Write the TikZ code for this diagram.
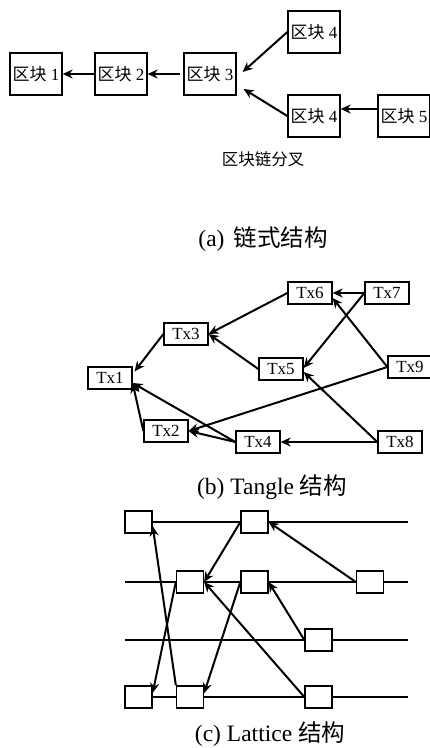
\documentclass[tikz,border=0pt]{standalone}
\usepackage{fontspec}
\setmainfont{Liberation Serif}
\newfontfamily\cjk{Noto Sans CJK SC}
\usetikzlibrary{arrows.meta}

\begin{document}
\begin{tikzpicture}[x=1pt, y=-1pt,
   blk/.style={draw=black, line width=1.3pt, fill=white, minimum width=52pt, minimum height=42pt, inner sep=0pt, font=\fontsize{17}{17}\selectfont},
   tx/.style={draw=black, line width=1.3pt, fill=white, minimum width=44pt, minimum height=22pt, inner sep=0pt, font=\fontsize{17}{17}\selectfont},
   cell/.style={draw=black, line width=1.3pt, fill=white, minimum width=27pt, minimum height=22pt, inner sep=0pt},
   arr/.style={-{Stealth[length=10pt,width=9pt]}, line width=2pt},
   capt/.style={font=\fontsize{23.5}{23.5}\selectfont}]

   \useasboundingbox (0,0) rectangle (430,748);

   % (a) chain with a fork
   \node[blk] (b1) at (36,74) {{\cjk 区块} 1};
   \node[blk] (b2) at (121,74) {{\cjk 区块} 2};
   \node[blk] (b3) at (210,74) {{\cjk 区块} 3};
   \node[blk] (b4a) at (314,32) {{\cjk 区块} 4};
   \node[blk] (b4b) at (314,116) {{\cjk 区块} 4};
   \node[blk] (b5) at (404,116) {{\cjk 区块} 5};

   \draw[arr] (b2.west) -- (b1.east);
   \draw[arr, shorten <=3pt] (b3.west) -- (b2.east);
   \draw[arr] (b4a.west) -- ([xshift=6pt,yshift=2pt]b3.east);
   \draw[arr] (b4b.west) -- ([xshift=7pt,yshift=-15pt]b3.east);
   \draw[arr] ([yshift=7pt]b5.west) -- ([yshift=7pt]b4b.east);

   \node[font=\cjk\fontsize{16.5}{16.5}\selectfont] (fork) at (263,159) {区块链分叉};
   \node[capt] (capa) at (263,239) {(a)\hspace{9pt}{\cjk 链式结构}};

   % (b) tangle
   \node[tx] (t1) at (110,378) {Tx1};
   \node[tx] (t2) at (166,431) {Tx2};
   \node[tx] (t3) at (186,334) {Tx3};
   \node[tx] (t4) at (258,442) {Tx4};
   \node[tx] (t5) at (281,369) {Tx5};
   \node[tx] (t6) at (310,293) {Tx6};
   \node[tx] (t7) at (387,293) {Tx7};
   \node[tx] (t8) at (400,442) {Tx8};
   \node[tx] (t9) at (410,367) {Tx9};

   \draw[arr] (t7.west) -- (t6.east);
   \draw[arr] (t6.west) -- (t3.east);
   \draw[arr] (t7.west) -- ([yshift=1pt]t5.east);
   \draw[arr] (t9.west) -- ([yshift=-5pt]t6.east);
   \draw[arr] (t5.west) -- (t3.east);
   \draw[arr] (t3.west) -- ([xshift=2pt,yshift=-5pt]t1.north east);
   \draw[arr] (t9.west) -- (t2.east);
   \draw[arr] (t8.west) -- ([yshift=-3pt]t5.east);
   \draw[arr] (t8.west) -- (t4.east);
   \draw[arr] (t4.west) -- ([yshift=-5pt]t1.east);
   \draw[arr] (t4.west) -- (t2.east);
   \draw[arr] (t2.west) -- ([yshift=-5pt]t1.east);

   \node[capt] (capb) at (272,487) {(b) Tangle {\cjk 结构}};

   % (c) lattice
   \foreach \y in {522,582,640,697}
      \draw[line width=1.5pt] (125,\y) -- (408,\y);

   \node[cell] (n11) at (138.5,522) {};
   \node[cell] (n12) at (254.5,522) {};
   \node[cell] (n21) at (190,582) {};
   \node[cell] (n22) at (254.5,582) {};
   \node[cell] (n23) at (370,582) {};
   \node[cell] (n31) at (318.5,640) {};
   \node[cell] (n41) at (138.5,697) {};
   \node[cell] (n42) at (190,697) {};
   \node[cell] (n43) at (318.5,697) {};

   \draw[arr] (n42.north west) -- ([yshift=-4pt]n11.east);
   \draw[arr] (n21.west) -- ([yshift=4pt]n41.east);
   \draw[arr] (n12.west) -- (n21.east);
   \draw[arr] (n23.west) -- (n12.east);
   \draw[arr] (n22.west) -- ([yshift=4pt]n42.east);
   \draw[arr] (n31.west) -- (n22.east);
   \draw[arr] (n43.west) -- (n21.east);

   \node[capt] (capc) at (270,734) {(c) Lattice {\cjk 结构}};

\end{tikzpicture}
\end{document}
